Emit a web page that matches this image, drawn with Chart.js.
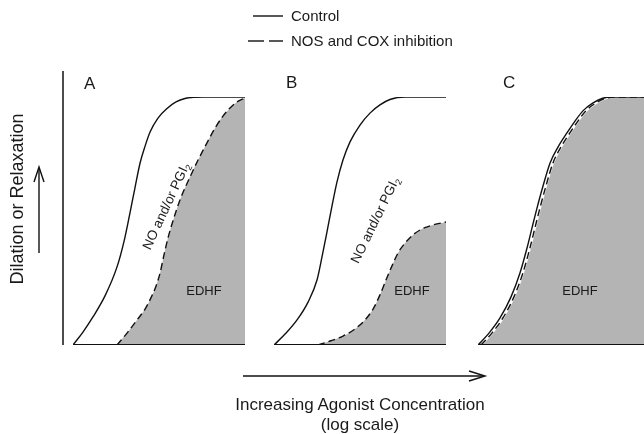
<!DOCTYPE html>
<html>
<head>
<meta charset="utf-8">
<script src="https://cdn.jsdelivr.net/npm/chart.js@4/dist/chart.umd.min.js"></script>
<style>
  html, body { margin: 0; padding: 0; background: #fff; }
  body { width: 644px; height: 434px; overflow: hidden; position: relative; font-family: "Liberation Sans", Arial, sans-serif; }
  canvas.panel { position: absolute; }
  svg#overlay { position: absolute; left: 0; top: 0; pointer-events: none; }
  svg text { fill: #1a1a1a; font-family: "Liberation Sans", Arial, sans-serif; }
</style>
</head>
<body>
<script>
// ---- Data (x: log agonist concentration, 0–10; y: % dilation, 0–100) ----
const panelLabels = ["A", "B", "C"];
const seriesNames = ["Control", "NOS and COX inhibition"];
const baselineX = [0, 10];
const baselineY = [0, 0];

const aControlX = [0, 0.58, 1.16, 1.86, 2.56, 2.97, 3.31, 3.60, 3.90, 4.19, 4.48, 4.94, 5.47, 5.99, 6.51, 7.09, 7.56, 10];
const aControlY = [0, 5.2, 11.3, 19.8, 31.5, 41.9, 53.2, 63.3, 73.4, 80.2, 85.9, 91.5, 95.4, 98.0, 99.4, 99.9, 100, 100];
const aInhibX   = [2.56, 3.14, 3.72, 4.19, 4.53, 4.83, 5.06, 5.29, 5.52, 5.81, 6.22, 6.80, 7.27, 7.79, 8.26, 8.72, 9.13, 9.53, 10];
const aInhibY   = [0, 4.8, 10.1, 14.5, 19.0, 23.8, 29.0, 36.3, 43.1, 50.0, 58.5, 67.7, 74.6, 81.5, 87.5, 92.3, 95.6, 98.0, 99.6];

const bControlX = [0, 0.70, 1.34, 1.98, 2.50, 2.79, 3.08, 3.37, 3.66, 4.01, 4.42, 5.00, 5.58, 6.16, 6.74, 7.62, 10];
const bControlY = [0, 4.8, 10.1, 17.3, 26.2, 35.5, 45.6, 56.0, 65.7, 74.6, 81.9, 88.7, 93.5, 96.8, 99.0, 100, 100];
const bInhibX   = [2.56, 3.26, 4.01, 4.71, 5.29, 5.76, 6.16, 6.51, 6.86, 7.21, 7.62, 8.08, 8.60, 9.24, 10];
const bInhibY   = [0, 1.6, 3.6, 6.5, 10.1, 14.5, 20.2, 26.2, 31.9, 37.1, 41.1, 44.4, 46.8, 48.4, 49.6];

const cControlX = [0, 0.64, 1.28, 1.92, 2.44, 2.85, 3.14, 3.43, 3.78, 4.19, 4.65, 5.17, 5.64, 6.10, 6.69, 7.21, 7.85, 10];
const cControlY = [0, 4.8, 10.9, 19.4, 29.0, 39.1, 47.2, 55.2, 64.1, 73.4, 79.8, 85.5, 90.3, 94.4, 97.6, 99.4, 100, 100];
const cInhibX   = [0.17, 0.81, 1.45, 2.09, 2.61, 3.02, 3.31, 3.60, 3.95, 4.36, 4.82, 5.34, 5.81, 6.27, 6.86, 7.38, 8.02, 10];
const cInhibY   = [0, 4.8, 10.9, 19.4, 29.0, 39.1, 47.2, 55.2, 64.1, 73.4, 79.8, 85.5, 90.3, 94.4, 97.6, 99.4, 100, 100];

const regionLabels = ["NO and/or PGI", "EDHF"];

// ---- helpers ----
function pts(xs, ys) { return xs.map((x, i) => ({ x: x, y: ys[i] })); }

const panels = [
  { left: 67,  control: pts(aControlX, aControlY), inhib: pts(aInhibX, aInhibY), halo: false },
  { left: 268, control: pts(bControlX, bControlY), inhib: pts(bInhibX, bInhibY), halo: false },
  { left: 472, control: pts(cControlX, cControlY), inhib: pts(cInhibX, cInhibY), halo: true }
];

const PAD = 6;
panels.forEach((p) => {
  const cv = document.createElement('canvas');
  cv.className = 'panel';
  cv.width = 184; cv.height = 260;
  cv.style.left = p.left + 'px';
  cv.style.top = '91px';
  cv.style.width = '184px';
  cv.style.height = '260px';
  document.body.appendChild(cv);
  const datasets = [
    { label: 'baseline', data: pts(baselineX, baselineY), borderColor: '#111', borderWidth: 1.8,
      pointRadius: 0, fill: false, tension: 0 },
    { label: seriesNames[0], data: p.control, borderColor: '#111', borderWidth: 1.4,
      pointRadius: 0, fill: false, cubicInterpolationMode: 'monotone' },
    { label: seriesNames[1], data: p.inhib, borderColor: '#111', borderWidth: 1.4, borderDash: [7, 4],
      pointRadius: 0, fill: p.halo ? false : 'origin', backgroundColor: '#b4b4b4', cubicInterpolationMode: 'monotone' }
  ];
  if (p.halo) {
    datasets.push({ label: 'halo', data: p.inhib, borderColor: '#ffffff', borderWidth: 2.2,
      pointRadius: 0, fill: 'origin', backgroundColor: '#b4b4b4', cubicInterpolationMode: 'monotone' });
  }
  new Chart(cv.getContext('2d'), {
    type: 'line',
    data: { datasets: datasets },
    options: {
      responsive: false,
      animation: false,
      devicePixelRatio: 1,
      layout: { padding: PAD },
      plugins: { legend: { display: false }, tooltip: { enabled: false } },
      scales: {
        x: { type: 'linear', min: 0, max: 10, display: false },
        y: { type: 'linear', min: 0, max: 100, display: false }
      }
    }
  });
});
</script>
<svg id="overlay" width="644" height="434" xmlns="http://www.w3.org/2000/svg">
  <!-- legend -->
  <line x1="253" y1="16" x2="283" y2="16" stroke="#111" stroke-width="1.4"/>
  <line x1="248" y1="41" x2="264" y2="41" stroke="#111" stroke-width="1.4"/>
  <line x1="269" y1="41" x2="283" y2="41" stroke="#111" stroke-width="1.4"/>
  <text x="291" y="21" font-size="15">Control</text>
  <text x="291" y="46" font-size="15">NOS and COX inhibition</text>

  <!-- y axis line -->
  <line x1="63" y1="71" x2="63" y2="345" stroke="#111" stroke-width="1.5"/>

  <!-- panel letters -->
  <text x="84" y="89" font-size="17">A</text>
  <text x="286" y="88" font-size="17">B</text>
  <text x="503" y="88" font-size="17">C</text>

  <!-- region labels -->
  <text x="204" y="295" font-size="13" text-anchor="middle">EDHF</text>
  <text x="412" y="295" font-size="13" text-anchor="middle">EDHF</text>
  <text x="580" y="295" font-size="13" text-anchor="middle">EDHF</text>
  <text transform="translate(166,206) rotate(-65)" x="0" y="4.5" font-size="13.5" text-anchor="middle">NO and/or PGI<tspan font-size="9" dy="3">2</tspan></text>
  <text transform="translate(375,220) rotate(-64)" x="0" y="4.5" font-size="13.5" text-anchor="middle">NO and/or PGI<tspan font-size="9" dy="3">2</tspan></text>

  <!-- y title and arrow -->
  <text transform="translate(23,199) rotate(-90)" x="0" y="0" font-size="18" text-anchor="middle">Dilation or Relaxation</text>
  <line x1="39" y1="253" x2="39" y2="168" stroke="#111" stroke-width="1.4"/>
  <polyline points="34,182 39,167 44,182" fill="none" stroke="#111" stroke-width="1.4"/>

  <!-- x arrow and title -->
  <line x1="243" y1="376" x2="484" y2="376" stroke="#111" stroke-width="1.4"/>
  <polyline points="469,371 485,376 469,381" fill="none" stroke="#111" stroke-width="1.4"/>
  <text x="360" y="410" font-size="17" text-anchor="middle">Increasing Agonist Concentration</text>
  <text x="360" y="430" font-size="17" text-anchor="middle">(log scale)</text>
</svg>
</body>
</html>
